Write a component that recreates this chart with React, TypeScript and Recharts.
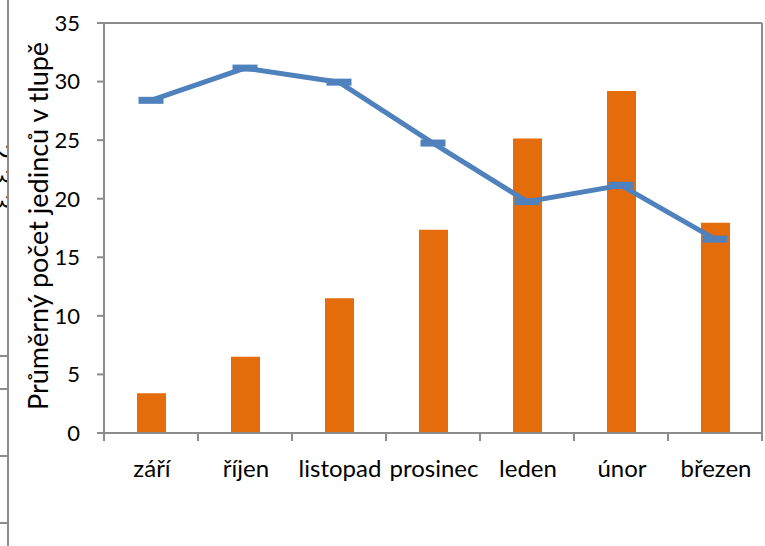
import React from "react";
import { ComposedChart, Bar, Line, XAxis, YAxis, CartesianGrid } from "recharts";

const categories = ["září", "říjen", "listopad", "prosinec", "leden", "únor", "březen"];
const barValues = [3.4, 6.5, 11.5, 17.35, 25.15, 29.2, 17.95];
const lineValues = [28.4, 31.15, 29.95, 24.75, 19.75, 21.15, 16.55];
const yTicks = [0, 5, 10, 15, 20, 25, 30, 35];
const yLabel = "Průměrný počet jedinců v tlupě";

const data = categories.map((c, i) => ({ cat: c, bar: barValues[i], line: lineValues[i] }));

const GRAY = "#8c8c8c";
const FONT = "Lato, 'Open Sans', sans-serif";
const HALF_BAND = 47;

const XTick = (props: any) => {
  const { x, y, payload, index, visibleTicksCount } = props;
  const top = y - 8;
  return (
    <g>
      <line x1={x - HALF_BAND} x2={x - HALF_BAND} y1={top} y2={top + 8} stroke={GRAY} strokeWidth={2} />
      {index === visibleTicksCount - 1 && (
        <line x1={x + HALF_BAND} x2={x + HALF_BAND} y1={top} y2={top + 8} stroke={GRAY} strokeWidth={2} />
      )}
      <text x={x + 1} y={y + 36} textAnchor="middle" fontSize={24} fill="#000" fontFamily={FONT}>
        {payload.value}
      </text>
    </g>
  );
};

const Dash = (props: any) => {
  const { cx, cy } = props;
  if (cx == null || cy == null) return null;
  return <rect x={cx - 12.5} y={cy - 3.5} width={25} height={7} fill="#4F81BD" />;
};

export default function App() {
  return (
    <div style={{ position: "absolute", left: 0, top: 0, width: 765, height: 546, background: "#fff" }}>
      <div style={{ position: "absolute", left: 7, top: 0, width: 2, height: 546, background: GRAY }} />
      {[355, 388, 455, 522].map((t) => (
        <div key={t} style={{ position: "absolute", left: 0, top: t, width: 7, height: 2, background: GRAY }} />
      ))}
      <div style={{ position: "absolute", left: 0, top: 142, width: 7, height: 80, overflow: "hidden" }}>
        <div
          style={{
            position: "absolute",
            left: -11,
            top: 2,
            writingMode: "vertical-rl",
            fontFamily: FONT,
            fontSize: 26,
            lineHeight: "26px",
            letterSpacing: 10,
          }}
        >
          233
        </div>
      </div>
      <ComposedChart
        width={765}
        height={546}
        data={data}
        margin={{ top: 23, right: 1, left: 0, bottom: 53 }}
        style={{ fontFamily: FONT }}
      >
        <CartesianGrid vertical={false} stroke={GRAY} strokeWidth={2} />
        <XAxis
          dataKey="cat"
          height={60}
          axisLine={{ stroke: GRAY, strokeWidth: 2 }}
          tickLine={false}
          tick={<XTick />}
          interval={0}
        />
        <YAxis
          yAxisId="left"
          width={104}
          domain={[0, 35]}
          ticks={yTicks}
          interval={0}
          axisLine={{ stroke: GRAY, strokeWidth: 2 }}
          tickLine={{ stroke: GRAY, strokeWidth: 2 }}
          tickSize={7}
          tickMargin={17}
          tick={{ fill: "#000", fontSize: 22, fontFamily: FONT }}
          label={{
            value: yLabel,
            angle: -90,
            position: "insideLeft",
            offset: 38,
            dy: -2,
            style: { textAnchor: "middle", fontSize: 27, fill: "#000", fontFamily: FONT },
          }}
        />
        <YAxis
          yAxisId="right"
          orientation="right"
          width={2}
          domain={[0, 35]}
          tick={false}
          tickLine={false}
          axisLine={{ stroke: GRAY, strokeWidth: 2 }}
        />
        <Bar yAxisId="left" dataKey="bar" fill="#E46C0A" barSize={29} isAnimationActive={false} />
        <Line
          yAxisId="left"
          dataKey="line"
          stroke="#4F81BD"
          strokeWidth={5}
          dot={<Dash />}
          activeDot={false}
          isAnimationActive={false}
        />
      </ComposedChart>
    </div>
  );
}
